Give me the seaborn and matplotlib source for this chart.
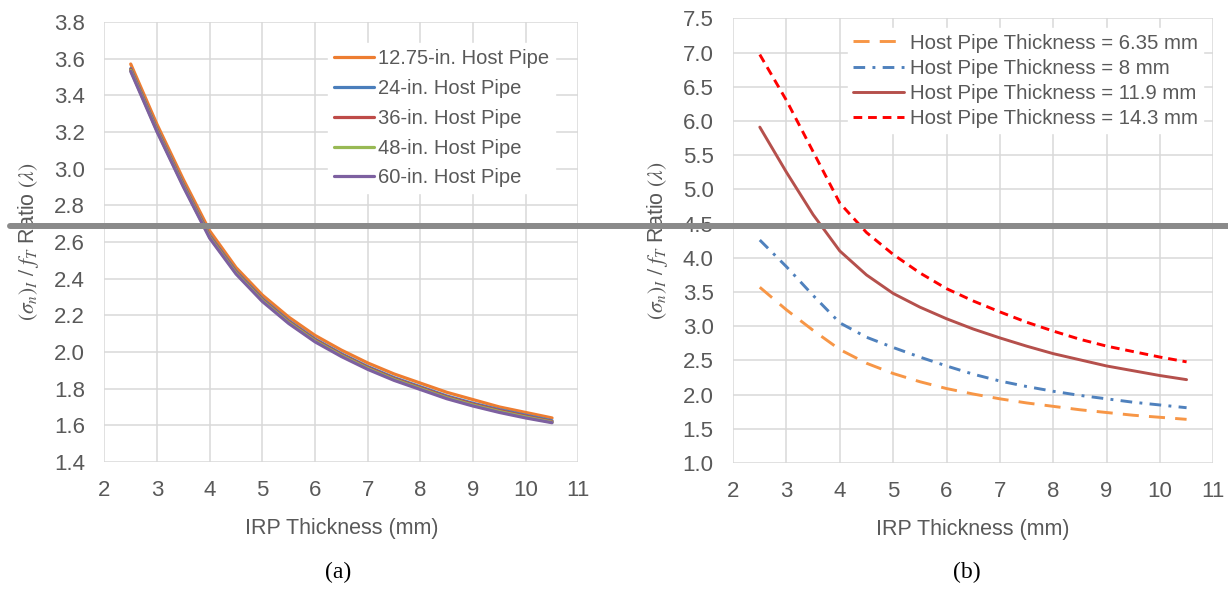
import numpy as np
import pandas as pd
import matplotlib
matplotlib.use("Agg")
import matplotlib.pyplot as plt
from matplotlib.lines import Line2D
import seaborn as sns

# ---------------- data ----------------
irp_thickness = [2.5, 3.0, 3.5, 4.0, 4.5, 5.0, 5.5, 6.0, 6.5, 7.0, 7.5, 8.0, 8.5, 9.0, 9.5, 10.0, 10.5]

# panel (a): host pipe diameters
pipe_a_labels = ["12.75-in. Host Pipe", "24-in. Host Pipe", "36-in. Host Pipe",
                 "48-in. Host Pipe", "60-in. Host Pipe"]
ratio_12_75 = [3.57, 3.24, 2.94, 2.66, 2.46, 2.31, 2.19, 2.09, 2.01, 1.94, 1.88, 1.83, 1.78, 1.74, 1.70, 1.67, 1.64]
ratio_24 = [3.545, 3.215, 2.915, 2.635, 2.44, 2.29, 2.17, 2.07, 1.99, 1.92, 1.86, 1.81, 1.76, 1.72, 1.685, 1.655, 1.625]
ratio_36 = [3.54, 3.21, 2.91, 2.63, 2.435, 2.285, 2.165, 2.065, 1.985, 1.915, 1.855, 1.805, 1.755, 1.715, 1.68, 1.65, 1.62]
ratio_48 = [3.535, 3.205, 2.905, 2.625, 2.43, 2.28, 2.16, 2.06, 1.98, 1.91, 1.85, 1.80, 1.75, 1.71, 1.675, 1.645, 1.617]
ratio_60 = [3.53, 3.20, 2.90, 2.62, 2.425, 2.275, 2.155, 2.055, 1.975, 1.905, 1.845, 1.795, 1.745, 1.705, 1.67, 1.64, 1.614]

# panel (b): host pipe wall thickness
pipe_b_labels = ["Host Pipe Thickness = 6.35 mm", "Host Pipe Thickness = 8 mm",
                 "Host Pipe Thickness = 11.9 mm", "Host Pipe Thickness = 14.3 mm"]
ratio_t6_35 = [3.57, 3.24, 2.94, 2.66, 2.46, 2.31, 2.19, 2.09, 2.01, 1.94, 1.88, 1.83, 1.78, 1.74, 1.70, 1.67, 1.64]
ratio_t8 = [4.26, 3.87, 3.45, 3.05, 2.84, 2.69, 2.55, 2.42, 2.30, 2.20, 2.12, 2.05, 1.99, 1.94, 1.89, 1.85, 1.81]
ratio_t11_9 = [5.91, 5.25, 4.63, 4.10, 3.75, 3.48, 3.28, 3.11, 2.96, 2.83, 2.71, 2.60, 2.51, 2.42, 2.35, 2.28, 2.22]
ratio_t14_3 = [6.97, 6.30, 5.55, 4.80, 4.37, 4.05, 3.78, 3.55, 3.37, 3.21, 3.06, 2.93, 2.81, 2.71, 2.63, 2.55, 2.48]

x_ticks = [2, 3, 4, 5, 6, 7, 8, 9, 10, 11]
y_ticks_a = [1.4, 1.6, 1.8, 2.0, 2.2, 2.4, 2.6, 2.8, 3.0, 3.2, 3.4, 3.6, 3.8]
y_ticks_b = [1.0, 1.5, 2.0, 2.5, 3.0, 3.5, 4.0, 4.5, 5.0, 5.5, 6.0, 6.5, 7.0, 7.5]

# ---------------- style ----------------
sns.set_theme(style="whitegrid")
plt.rcParams["font.family"] = ["Liberation Sans", "DejaVu Sans"]
plt.rcParams["mathtext.fontset"] = "stix"
TXT = "#595959"
GRID = "#D9D9D9"

fig = plt.figure(figsize=(12.28, 5.90), dpi=100)
ax_a = fig.add_axes([0.085, 0.217, 0.386, 0.746])
ax_b = fig.add_axes([0.597, 0.215, 0.391, 0.754])

df_a = pd.DataFrame({"x": irp_thickness * 5,
                     "y": ratio_12_75 + ratio_24 + ratio_36 + ratio_48 + ratio_60,
                     "series": np.repeat(pipe_a_labels, len(irp_thickness))})
colors_a = ["#ED7D31", "#4A7EBB", "#BE4B48", "#98B954", "#7D60A0"]
for lab, col in zip(pipe_a_labels, colors_a):
    sub = df_a[df_a["series"] == lab]
    sns.lineplot(data=sub, x="x", y="y", ax=ax_a, color=col, linewidth=2.3,
                 label=lab, sort=True)

df_b = pd.DataFrame({"x": irp_thickness * 4,
                     "y": ratio_t6_35 + ratio_t8 + ratio_t11_9 + ratio_t14_3,
                     "series": np.repeat(pipe_b_labels, len(irp_thickness))})
colors_b = ["#F79646", "#4F81BD", "#B5504C", "#FF0000"]
dashes_b = [(5.5, 3.5), (4, 2.5, 1, 2.5), None, (3, 2)]
for lab, col, dsh in zip(pipe_b_labels, colors_b, dashes_b):
    sub = df_b[df_b["series"] == lab]
    sns.lineplot(data=sub, x="x", y="y", ax=ax_b, color=col, linewidth=2.1,
                 label=lab, sort=True)
    line = ax_b.get_lines()[-1]
    if dsh is not None:
        line.set_dashes(dsh)

ylabel = r"$(\sigma_n)_I\ /\ f_T$ Ratio $(\lambda)$"
for ax, yt, ylim in [(ax_a, y_ticks_a, (1.4, 3.8)), (ax_b, y_ticks_b, (1.0, 7.5))]:
    ax.set_xlim(2, 11)
    ax.set_ylim(*ylim)
    ax.set_xticks(x_ticks)
    ax.set_yticks(yt)
    ax.set_xticklabels([str(v) for v in x_ticks])
    ax.set_yticklabels([f"{v:.1f}" for v in yt])
    ax.grid(True, color=GRID, linewidth=1.1)
    ax.set_axisbelow(True)
    for s in ax.spines.values():
        s.set_visible(False)
    ax.tick_params(axis="both", colors=TXT, labelsize=16, length=0)
    ax.tick_params(axis="x", pad=13)
    ax.tick_params(axis="y", pad=14)
    ax.set_xlabel("IRP Thickness (mm)", fontsize=15.5, color=TXT, labelpad=12)
    ax.set_ylabel(ylabel, fontsize=15.5, color=TXT, labelpad=9)
    ax.set_facecolor("white")

leg_a = ax_a.legend(loc="upper right", bbox_to_anchor=(0.972, 0.975), fontsize=14.5,
                    frameon=True, framealpha=1, edgecolor="white", facecolor="white",
                    handlelength=2.0, handletextpad=0.2, labelspacing=0.54,
                    borderpad=0.3, fancybox=False)
for t in leg_a.get_texts():
    t.set_color(TXT)

leg_b = ax_b.legend(loc="upper right", bbox_to_anchor=(1.0, 1.0), fontsize=14.7,
                    frameon=True, framealpha=1, edgecolor="white", facecolor="white",
                    handlelength=2.5, handletextpad=0.3, labelspacing=0.3,
                    borderpad=0.25, fancybox=False)
for t in leg_b.get_texts():
    t.set_color(TXT)

# captions
fig.text(0.275, 0.03, "(a)", ha="center", va="center", fontsize=17,
         family=["Liberation Serif", "DejaVu Serif"], color="black")
fig.text(0.787, 0.03, "(b)", ha="center", va="center", fontsize=17,
         family=["Liberation Serif", "DejaVu Serif"], color="black")

# grey band artefact across the scanned figure
fig.add_artist(Line2D([0.008, 1.0], [1 - 226 / 590, 1 - 226 / 590],
                      transform=fig.transFigure, color="#8A8A8A", linewidth=4.3))

fig.savefig("out.png", dpi=100, facecolor="white")
